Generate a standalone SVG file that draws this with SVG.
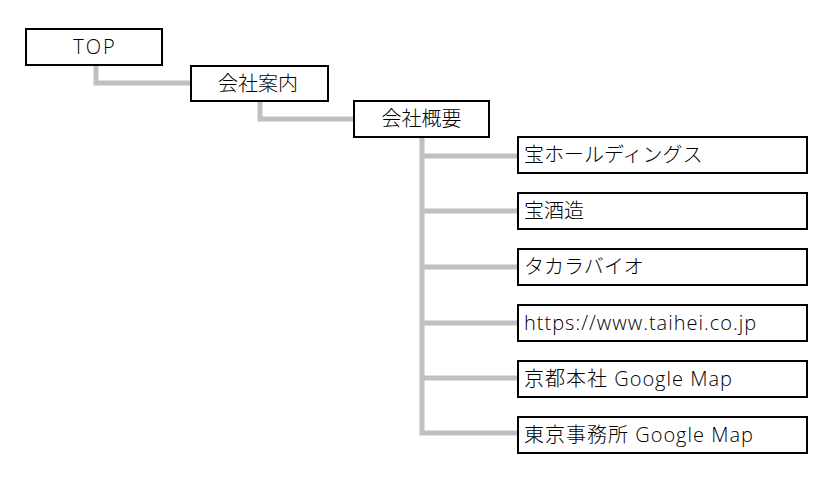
<svg xmlns="http://www.w3.org/2000/svg" width="840" height="490" viewBox="0 0 840 490">
<style>
.box{fill:#fff;stroke:#000;stroke-width:2}
.t{font-family:"Open Sans","Noto Sans CJK JP",sans-serif;font-size:20px;font-weight:300;fill:#000}
.c{text-anchor:middle}
.w{letter-spacing:1px}
.ln{fill:none;stroke:#c0c0c0;stroke-width:5}
</style>
<rect width="840" height="490" fill="#fff"/>
<g id="connectors">
<polyline class="ln" points="96,65 96,83 191,83"/>
<polyline class="ln" points="260,101 260,119 354,119"/>
<polyline class="ln" points="422,137 422,433 518,433"/>
<line class="ln" x1="422" y1="156" x2="518" y2="156"/>
<line class="ln" x1="422" y1="211" x2="518" y2="211"/>
<line class="ln" x1="422" y1="267" x2="518" y2="267"/>
<line class="ln" x1="422" y1="323" x2="518" y2="323"/>
<line class="ln" x1="422" y1="378" x2="518" y2="378"/>
</g>
<g id="top"><rect class="box" x="26" y="29" width="136" height="36"/><text class="t c" x="95" y="54" style="letter-spacing:2px">TOP</text></g>
<g id="annai"><rect class="box" x="191" y="66" width="137" height="35"/><text class="t c" x="258" y="91">会社案内</text></g>
<g id="gaiyou"><rect class="box" x="354" y="101" width="135" height="36"/><text class="t c" x="421.5" y="126">会社概要</text></g>
<g id="n1"><rect class="box" x="518" y="137" width="289" height="36"/><text class="t" x="524" y="162">宝ホールディングス</text></g>
<g id="n2"><rect class="box" x="518" y="193" width="289" height="36"/><text class="t" x="524" y="218">宝酒造</text></g>
<g id="n3"><rect class="box" x="518" y="249" width="289" height="36"/><text class="t" x="524" y="274">タカラバイオ</text></g>
<g id="n4"><rect class="box" x="518" y="305" width="289" height="36"/><text class="t w" x="524" y="330">https://www.taihei.co.jp</text></g>
<g id="n5"><rect class="box" x="518" y="361" width="289" height="36"/><text class="t w" x="524" y="386">京都本社 Google Map</text></g>
<g id="n6"><rect class="box" x="518" y="417" width="289" height="36"/><text class="t w" x="524" y="442">東京事務所 Google Map</text></g>
</svg>
